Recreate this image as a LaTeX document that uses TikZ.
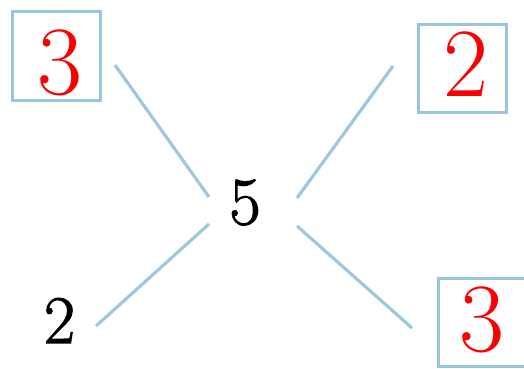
\documentclass[tikz,border=0pt]{standalone}
\usepackage{fontspec}
\newfontfamily\heavyfont{Latin Modern Roman}[FakeBold=1.6]
\definecolor{lineblue}{RGB}{158,200,222}
\definecolor{boxblue}{RGB}{152,198,218}
\definecolor{digitred}{RGB}{250,0,0}
\begin{document}
\begin{tikzpicture}[x=1pt,y=1pt,
  numbox/.style={draw=boxblue,line width=3pt,minimum width=88pt,minimum height=88pt,inner sep=0pt},
  reddigit/.style={inner sep=0pt,text=digitred,font=\fontsize{98}{98}\selectfont},
  plainnum/.style={inner sep=0pt,font=\heavyfont\fontsize{68}{68}\selectfont},
  link/.style={draw=lineblue,line width=3.2pt}]
\useasboundingbox (0,0) rectangle (524,-368);
\node[numbox,minimum height=89pt] (b1) at (56.5,-56) {};
\node[numbox] (b2) at (462.5,-68.5) {};
\node[numbox] (b3) at (482.5,-322) {};
\node[reddigit] (d1) at (59.5,-63) {3};
\node[reddigit] (d2) at (466,-64) {2};
\node[reddigit] (d3) at (481.5,-319.5) {3};
\node[plainnum] (five) at (245,-202.5) {5};
\node[plainnum] (two) at (59.5,-320.5) {2};
\coordinate (l1a) at (115,-65);
\coordinate (l1b) at (209,-197);
\coordinate (l2a) at (393,-66);
\coordinate (l2b) at (297,-198);
\coordinate (l3a) at (209,-224);
\coordinate (l3b) at (96,-326);
\coordinate (l4a) at (297,-226);
\coordinate (l4b) at (412,-328);
\path[link] (l1a) -- (l1b);
\path[link] (l2a) -- (l2b);
\path[link] (l3a) -- (l3b);
\path[link] (l4a) -- (l4b);
\end{tikzpicture}
\end{document}
